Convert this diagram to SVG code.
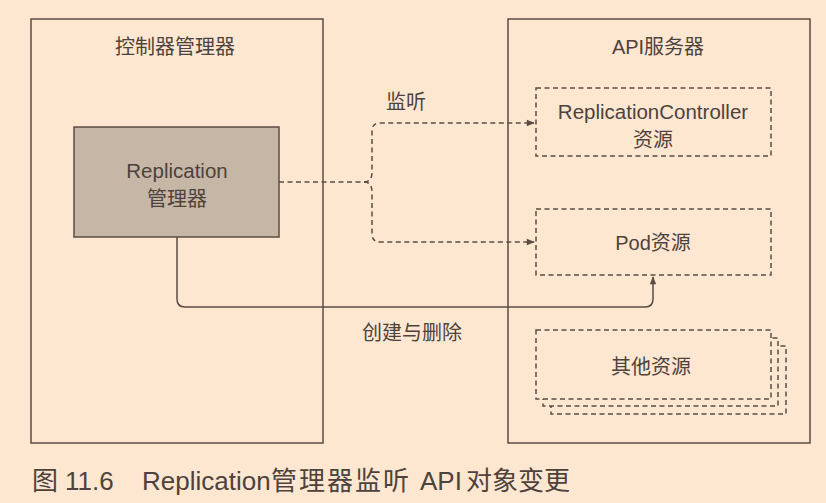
<svg xmlns="http://www.w3.org/2000/svg" width="826" height="503" viewBox="0 0 826 503">
<defs>
<style>
.bg{fill:#fde7d1}
.outer{fill:none;stroke:#5b4c43;stroke-width:1.5}
.dash{fill:none;stroke:#5b4c43;stroke-width:1.5;stroke-dasharray:5,3.5}
.dashf{fill:#fde7d1;stroke:#5b4c43;stroke-width:1.5;stroke-dasharray:5,3.5}
.solid{fill:none;stroke:#5b4c43;stroke-width:1.5}
.t{font-family:"Liberation Sans","Noto Sans CJK SC",sans-serif;fill:#4e423c;text-anchor:middle}
.cap{font-family:"Liberation Sans","Noto Sans CJK SC",sans-serif;fill:#4e423c;font-size:26px}
</style>
<marker id="ah" viewBox="0 0 10 10" refX="9" refY="5" markerWidth="10" markerHeight="8" markerUnits="userSpaceOnUse" orient="auto">
<path d="M0,1 L10,5 L0,9 Z" fill="#5b4c43"/>
</marker>
</defs>
<rect class="bg" x="0" y="0" width="826" height="503"/>

<g id="controller-manager">
<rect class="outer" x="31" y="19" width="292" height="424"/>
<text class="t" x="175" y="54" font-size="20">控制器管理器</text>
</g>

<g id="replication-manager">
<rect x="74" y="127" width="205" height="110" fill="#c5b6a5" stroke="#5b4c43" stroke-width="1.5"/>
<text class="t" x="177" y="178" font-size="20.5">Replication</text>
<text class="t" x="177" y="206" font-size="20">管理器</text>
</g>

<g id="api-server">
<rect class="outer" x="508" y="19" width="302" height="424"/>
<text class="t" x="658" y="54" font-size="20">API服务器</text>
</g>

<g id="rc-resource">
<rect class="dash" x="536" y="88" width="235" height="68"/>
<text class="t" x="653" y="119" font-size="20.5">ReplicationController</text>
<text class="t" x="653" y="147" font-size="20">资源</text>
</g>

<g id="pod-resource">
<rect class="dash" x="536" y="209" width="235" height="66"/>
<text class="t" x="653" y="250" font-size="20">Pod资源</text>
</g>

<g id="other-resources">
<rect class="dashf" x="551" y="346" width="235" height="68"/>
<rect class="dashf" x="543" y="338" width="235" height="68"/>
<rect class="dashf" x="536" y="330" width="235" height="69"/>
<text class="t" x="651" y="374" font-size="20">其他资源</text>
</g>

<g id="connectors">
<path class="dash" d="M279,182 H364 Q372,182 372,172 V131 Q372,123 380,123 H534" marker-end="url(#ah)"/>
<path class="dash" d="M364,182 Q372,182 372,192 V234 Q372,242 380,242 H534" marker-end="url(#ah)"/>
<path class="solid" d="M177,237 V299 Q177,307 185,307 H645 Q653,307 653,299 V277" marker-end="url(#ah)"/>
<text class="t" x="406" y="109" font-size="20">监听</text>
<text class="t" x="412" y="340" font-size="20">创建与删除</text>
</g>

<text class="cap" y="490"><tspan x="32">图</tspan><tspan x="65">11.6</tspan><tspan x="142">Replication</tspan><tspan x="271" letter-spacing="2">管理器监听</tspan><tspan x="420">API</tspan><tspan x="466">对象变更</tspan></text>
</svg>
